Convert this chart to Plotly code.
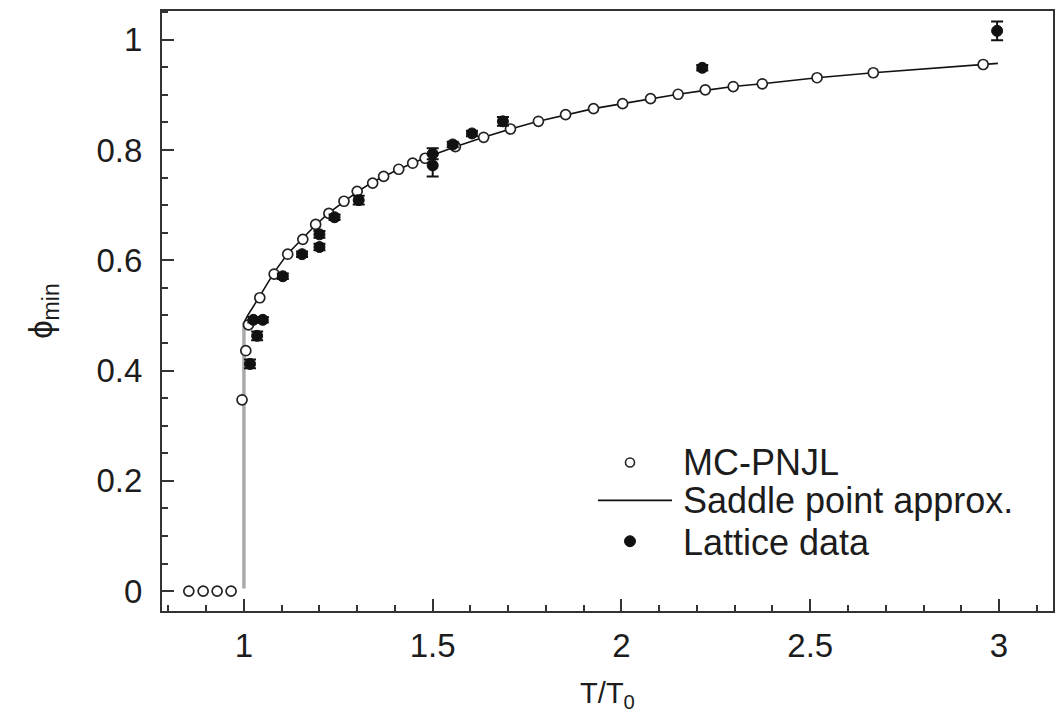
import plotly.graph_objects as go

# MC-PNJL (open circles)
mc_T = [0.854, 0.892, 0.929, 0.966, 0.995, 1.005, 1.012, 1.042, 1.08, 1.116, 1.156, 1.19,
        1.225, 1.265, 1.30, 1.341, 1.37, 1.41, 1.447, 1.48, 1.56, 1.635, 1.706, 1.78,
        1.852, 1.926, 2.003, 2.077, 2.15, 2.222, 2.296, 2.373, 2.518, 2.667, 2.958]
mc_phi = [0.0, 0.0, 0.0, 0.0, 0.347, 0.436, 0.483, 0.532, 0.575, 0.611, 0.638, 0.665,
          0.685, 0.707, 0.725, 0.740, 0.752, 0.765, 0.776, 0.785, 0.806, 0.823, 0.838, 0.852,
          0.864, 0.875, 0.884, 0.893, 0.901, 0.909, 0.915, 0.920, 0.931, 0.940, 0.955]

# Saddle point approximation (line)
sp_T = [1.0, 1.01, 1.042, 1.08, 1.116, 1.156, 1.19, 1.225, 1.265, 1.30, 1.341, 1.41,
        1.48, 1.56, 1.635, 1.706, 1.78, 1.852, 1.926, 2.003, 2.077, 2.15, 2.222, 2.296,
        2.373, 2.518, 2.667, 2.958, 2.997]
sp_phi = [0.487, 0.50, 0.535, 0.578, 0.612, 0.640, 0.664, 0.686, 0.707, 0.724, 0.742, 0.765,
          0.786, 0.806, 0.823, 0.838, 0.852, 0.864, 0.875, 0.884, 0.893, 0.901, 0.908, 0.915,
          0.920, 0.931, 0.940, 0.955, 0.957]

# Vertical (first-order jump) part of the saddle point curve, drawn in grey
jump_T = [1.0, 1.0]
jump_phi = [0.005, 0.487]

# Lattice data (filled circles with error bars)
lat_T = [1.016, 1.035, 1.025, 1.05, 1.103, 1.154, 1.20, 1.20, 1.24, 1.304, 1.50, 1.50,
         1.553, 1.604, 1.686, 2.214, 2.995]
lat_phi = [0.412, 0.463, 0.492, 0.492, 0.571, 0.611, 0.624, 0.647, 0.678, 0.709, 0.793, 0.772,
           0.810, 0.830, 0.852, 0.949, 1.016]
lat_err = [0.008, 0.008, 0.005, 0.005, 0.005, 0.005, 0.006, 0.006, 0.005, 0.008, 0.010, 0.020,
           0.005, 0.005, 0.008, 0.005, 0.017]

x_ticks = [1, 1.5, 2, 2.5, 3]
x_ticktext = ["1", "1.5", "2", "2.5", "3"]
y_ticks = [0, 0.2, 0.4, 0.6, 0.8, 1.0]
y_ticktext = ["0", "0.2", "0.4", "0.6", "0.8", "1"]

legend_labels = ["MC-PNJL", "Saddle point approx.", "Lattice data"]

FONT = "Liberation Sans, Arial, Helvetica, sans-serif"
TXT = "#1c1c1c"

# figure geometry (page has an 8px body margin)
W, H = 1056, 709
ML, MR, MT, MB = 154, 11, 1, 106
PW, PH = W - ML - MR, H - MT - MB
OFF = 8


def px(xp):  # page x pixel -> paper x
    return (xp - OFF - ML) / PW


def py(yp):  # page y pixel -> paper y
    return (H - MB - (yp - OFF)) / PH


fig = go.Figure()

fig.add_trace(go.Scatter(
    x=jump_T, y=jump_phi, mode="lines",
    line=dict(color="#aaaaaa", width=3.5), showlegend=False, hoverinfo="skip"))

fig.add_trace(go.Scatter(
    x=sp_T, y=sp_phi, mode="lines", name=legend_labels[1],
    line=dict(color="#111111", width=1.6), showlegend=False))

fig.add_trace(go.Scatter(
    x=mc_T, y=mc_phi, mode="markers", name=legend_labels[0],
    marker=dict(symbol="circle", size=10, color="white",
                line=dict(color="#222222", width=1.7)), showlegend=False))

fig.add_trace(go.Scatter(
    x=lat_T, y=lat_phi, mode="markers", name=legend_labels[2],
    error_y=dict(type="data", array=lat_err, visible=True, color="#111111",
                 thickness=2, width=6),
    marker=dict(symbol="circle", size=11, color="#111111",
                line=dict(color="#111111", width=1)), showlegend=False))

axis_common = dict(
    showline=True, linecolor="#333333", linewidth=2, mirror=True,
    ticks="inside", ticklen=12, tickwidth=2, tickcolor="#333333",
    showgrid=False, zeroline=False,
    tickfont=dict(family=FONT, size=33, color=TXT),
)

fig.update_xaxes(
    **axis_common,
    range=[0.783, 3.143],
    tickvals=x_ticks, ticktext=x_ticktext, ticklabelstandoff=4,
    minor=dict(ticks="inside", ticklen=6, tickwidth=2, tickcolor="#333333", dtick=0.1, tick0=0),
    title=dict(text="T/T<sub>0</sub>", font=dict(family=FONT, size=29, color=TXT), standoff=20),
)
fig.update_yaxes(
    **axis_common,
    range=[-0.036, 1.052],
    tickvals=y_ticks, ticktext=y_ticktext, ticklabelstandoff=11,
    minor=dict(ticks="inside", ticklen=6, tickwidth=2, tickcolor="#333333", dtick=0.05, tick0=0),
    title=dict(text="ϕ<sub>min</sub>", font=dict(family=FONT, size=33, color=TXT), standoff=34),
)

# hand-built legend (symbols + real text)
shapes = []
r = 4.5
shapes.append(dict(type="circle", xref="paper", yref="paper",
                   x0=px(630 - r), x1=px(630 + r), y0=py(462 + r), y1=py(462 - r),
                   line=dict(color="#222222", width=1.6), fillcolor="white"))
shapes.append(dict(type="line", xref="paper", yref="paper",
                   x0=px(598), x1=px(672), y0=py(500), y1=py(500),
                   line=dict(color="#111111", width=1.8)))
r2 = 5.5
shapes.append(dict(type="circle", xref="paper", yref="paper",
                   x0=px(630 - r2), x1=px(630 + r2), y0=py(541 + r2), y1=py(541 - r2),
                   line=dict(color="#111111", width=1), fillcolor="#111111"))

annotations = []
for lbl, yc in zip(legend_labels, [462, 500, 542]):
    annotations.append(dict(text=lbl, xref="paper", yref="paper", x=px(681), y=py(yc),
                            xanchor="left", yanchor="middle", showarrow=False,
                            font=dict(family=FONT, size=36, color=TXT)))

fig.update_layout(
    width=W, height=H,
    margin=dict(l=ML, r=MR, t=MT, b=MB),
    paper_bgcolor="white", plot_bgcolor="white",
    showlegend=False,
    shapes=shapes, annotations=annotations,
)

fig.write_html("out.html")
